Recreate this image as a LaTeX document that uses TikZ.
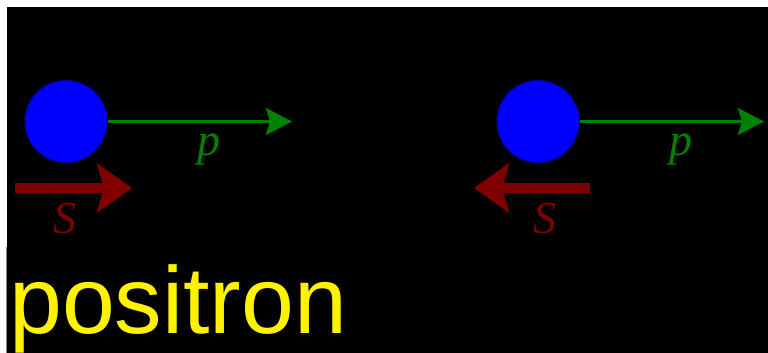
\documentclass[tikz,border=0pt]{standalone}
\usepackage{fontspec}
\setmainfont{Liberation Serif}
\newfontfamily\namefont{Liberation Sans}
\usetikzlibrary{arrows.meta}
\definecolor{spinred}{RGB}{128,0,0}
\definecolor{momgreen}{RGB}{0,128,0}
\tikzset{
	ball/.style={circle,fill=blue,draw=blue!70!black,line width=1pt,minimum size=82pt,inner sep=0pt},
	momentum/.style={momgreen,line width=3pt,-{Stealth[length=26pt,width=27pt,inset=4pt]}},
	spin/.style={spinred,line width=10pt,-{Stealth[length=35pt,width=49pt,inset=7pt]}},
	lbl/.style={font=\fontsize{46}{46}\selectfont\itshape,inner sep=0pt}
}
\begin{document}
\begin{tikzpicture}[x=1pt,y=-1pt]
	\useasboundingbox (0,0) rectangle (768,353);
	\fill[black] (7,7) rectangle (768,353);
	\draw[gray,line width=1pt] (6,247) -- (6,353);
	\def\yb{121.5};
	\def\ys{188};
	% one particle per half: ball, momentum p, spin S
	\foreach \n/\xb/\xs/\xt/\xS in {L/66/15/132/65, R/538/590/474/545}{
		\node[ball] (ball\n) at (\xb,\yb) {};
		\coordinate (ptip\n) at (\xb+226,\yb);
		\draw[momentum] (ball\n.east) -- (ptip\n);
		\node[lbl,momgreen] (plab\n) at (\xb+143,150) {p};
		\coordinate (stail\n) at (\xs,\ys);
		\coordinate (stip\n) at (\xt,\ys);
		\draw[spin] (stail\n) -- (stip\n);
		\node[lbl,spinred] (slab\n) at (\xS,218) {S};
	}
	\node[anchor=base west,inner sep=0pt,yellow,font=\namefont\fontsize{95}{95}\selectfont] (name) at (9,333) {positron};
\end{tikzpicture}
\end{document}
